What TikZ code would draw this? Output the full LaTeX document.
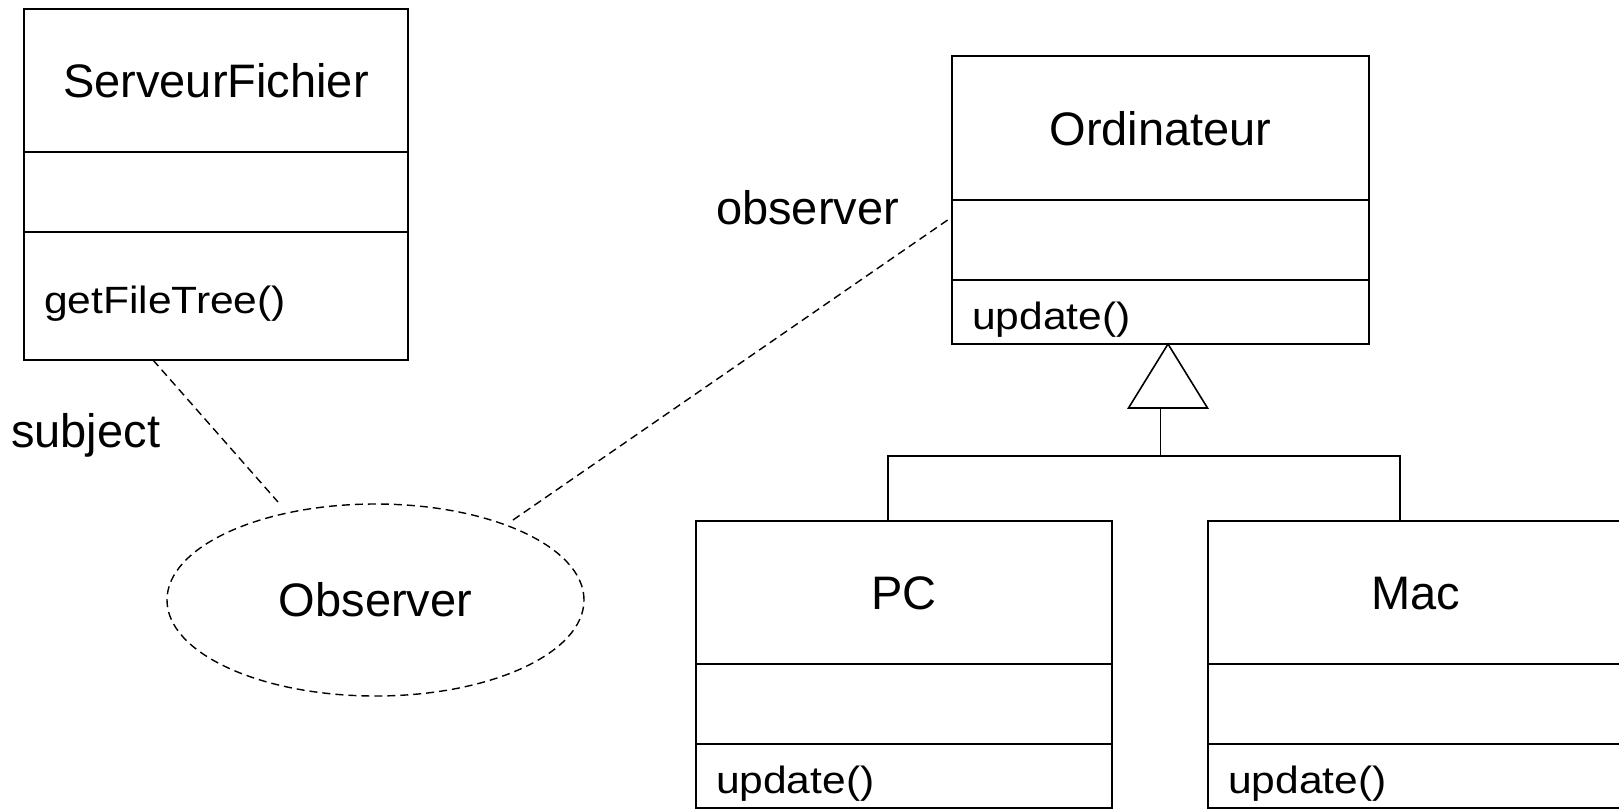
\documentclass[tikz,border=0pt]{standalone}
\usepackage{fontspec}
\setmainfont{Liberation Sans}
\newfontfamily\methfont[FakeStretch=1.12]{Liberation Sans}
\usetikzlibrary{shapes.geometric}

\tikzset{
  uml/.style={draw=black, line width=1.6pt},
  compart/.style={uml, rectangle, inner sep=0pt, outer sep=0pt, anchor=north west},
  namebox/.style={compart, minimum width=#1, minimum height=143pt,
    font=\fontsize{47}{56}\selectfont, text height=34pt, text depth=0pt},
  attrbox/.style={compart, minimum width=#1, minimum height=80pt},
  methbox/.style={compart, inner xsep=20pt, align=left,
    font=\methfont\fontsize{38}{46}\selectfont, text height=35pt, text depth=0pt},
  rolelabel/.style={anchor=base west, inner sep=0pt, font=\fontsize{47}{56}\selectfont},
  assoc/.style={draw=black, line width=1.4pt, dash pattern=on 8pt off 5pt},
}

\begin{document}
\begin{tikzpicture}[x=1pt, y=-1pt]
  \clip (0,0) rectangle (1619,809);
  \fill[white] (0,0) rectangle (1619,809);

  % ServeurFichier
  \node[namebox=384pt, minimum height=143pt] (sfN) at (24,9) {ServeurFichier};
  \node[attrbox=384pt] (sfA) at (sfN.south west) {};
  \node[methbox, text width=344pt, minimum height=128pt] (sfM) at (sfA.south west) {getFileTree()};

  % Ordinateur
  \node[namebox=417pt, minimum height=144pt] (ordN) at (952,56) {Ordinateur};
  \node[attrbox=417pt] (ordA) at (ordN.south west) {};
  \node[methbox, text width=377pt, minimum height=64pt] (ordM) at (ordA.south west) {update()};

  % PC
  \node[namebox=416pt] (pcN) at (696,521) {PC};
  \node[attrbox=416pt] (pcA) at (pcN.south west) {};
  \node[methbox, text width=376pt, minimum height=64pt] (pcM) at (pcA.south west) {update()};

  % Mac
  \node[namebox=416pt] (macN) at (1208,521) {Mac};
  \node[attrbox=416pt] (macA) at (macN.south west) {};
  \node[methbox, text width=376pt, minimum height=64pt] (macM) at (macA.south west) {update()};

  % Observer collaboration
  \node[ellipse, assoc, minimum width=417pt, minimum height=192pt, inner sep=0pt,
        font=\fontsize{47}{56}\selectfont] (obs) at (375.5,600) {Observer};

  \coordinate (subjEnd) at (278,502);
  \coordinate (obsEnd) at (513,520);
  \draw[assoc] ([xshift=129pt]sfM.south west) -- (subjEnd);
  \draw[assoc] (obsEnd) -- ([yshift=23pt]ordA.west);

  \node[rolelabel] (subjLbl) at (11,447) {subject};
  \node[rolelabel] (obsLbl) at (716,224) {observer};

  % generalisation
  \coordinate (apex) at ([xshift=7.5pt]ordM.south);
  \draw[uml, line join=miter] (apex) -- ++(-39.5,64) -- ++(79,0) -- cycle;
  \coordinate (fork) at ([yshift=-112pt]ordM.south);
  \draw[uml] ([yshift=-64pt]ordM.south) -- (fork);
  \draw[uml] ([xshift=-16pt]pcN.north) |- (fork) -| ([xshift=-16pt]macN.north);
\end{tikzpicture}
\end{document}
